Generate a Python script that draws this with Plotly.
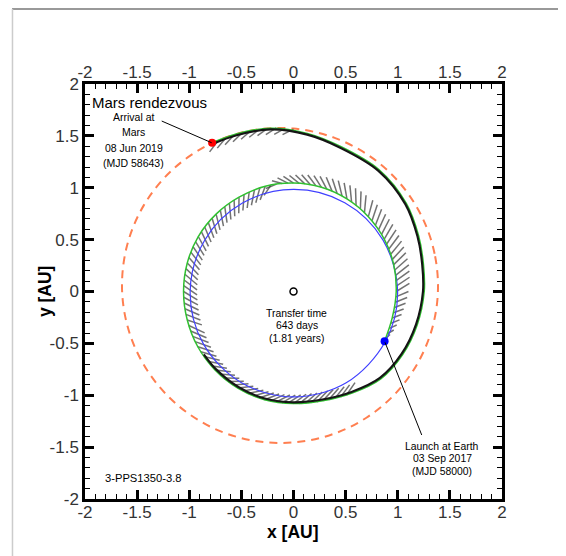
import plotly.graph_objects as go

# ---------------- data ----------------
tick_vals = [-2, -1.5, -1, -0.5, 0, 0.5, 1, 1.5, 2]
tick_text = ["-2", "-1.5", "-1", "-0.5", "0", "0.5", "1", "1.5", "2"]

# Mars orbit (polar: angle in deg, radius in AU)
mars_theta = [0, 15, 30, 45, 60, 75, 90, 105, 120, 135, 150, 165, 180, 195, 210,
              225, 240, 255, 270, 285, 300, 315, 330, 345, 360]
mars_r = [1.392, 1.408, 1.432, 1.462, 1.496, 1.533, 1.570, 1.605, 1.634, 1.655,
          1.665, 1.664, 1.652, 1.629, 1.598, 1.563, 1.526, 1.489, 1.455, 1.427,
          1.405, 1.390, 1.382, 1.383, 1.392]

# Earth orbit
earth_theta = [-28.6, 0, 30, 60, 90, 120, 150, 180, 210, 240, 270, 300, 331.4]
earth_r = [1.008, 1.0035, 0.995, 0.988, 0.984, 0.984, 0.9885, 0.996, 1.0046,
           1.012, 1.016, 1.016, 1.008]

# spacecraft trajectory (cumulative angle)
traj_theta = [-28.6, -15, 0, 15, 30, 45, 60, 75, 90, 105, 120, 135, 150, 165, 180,
              195, 210, 225, 240, 255, 270, 285, 300, 315, 330, 345, 360, 372, 384,
              398, 415, 432, 445, 458, 470, 478.8]
traj_r = [1.00, 0.985, 0.99, 1.0, 1.01, 1.02, 1.03, 1.04, 1.045, 1.05, 1.05, 1.055,
          1.06, 1.06, 1.06, 1.06, 1.065, 1.07, 1.075, 1.08, 1.08, 1.09, 1.13, 1.19,
          1.215, 1.235, 1.26, 1.28, 1.32, 1.38, 1.435, 1.47, 1.53, 1.59, 1.615, 1.634]

# dark (dense, tangential thrust) band just inside the trajectory
dark_theta = [215, 225, 240, 255, 270, 285, 300, 315, 330, 345, 360, 372, 384,
              398, 415, 432, 445, 458, 470, 478.8]
dark_r = [1.055, 1.058, 1.063, 1.068, 1.068, 1.078, 1.118, 1.178, 1.203, 1.223,
          1.248, 1.268, 1.308, 1.368, 1.423, 1.458, 1.518, 1.578, 1.603, 1.622]

# thrust arrows on the first revolution: base angle grid, base radius,
# tip radius, tip angle offset (deg)
arrow_theta = list(range(-27, 298, 3))
arrow_r0 = [0.998, 0.995, 0.991, 0.988, 0.985, 0.985, 0.986, 0.987, 0.988, 0.99,
            0.992, 0.994, 0.996, 0.998, 1.0, 1.002, 1.004, 1.006, 1.008, 1.01,
            1.012, 1.014, 1.016, 1.018, 1.02, 1.022, 1.024, 1.026, 1.028, 1.03,
            1.032, 1.034, 1.036, 1.038, 1.04, 1.041, 1.042, 1.043, 1.044, 1.045,
            1.046, 1.047, 1.048, 1.049, 1.05, 1.05, 1.05, 1.05, 1.05, 1.05,
            1.051, 1.052, 1.053, 1.054, 1.055, 1.056, 1.057, 1.058, 1.059, 1.06,
            1.06, 1.06, 1.06, 1.06, 1.06, 1.06, 1.06, 1.06, 1.06, 1.06,
            1.06, 1.06, 1.06, 1.06, 1.06, 1.061, 1.062, 1.063, 1.064, 1.065,
            1.066, 1.067, 1.068, 1.069, 1.07, 1.071, 1.072, 1.073, 1.074, 1.075,
            1.076, 1.077, 1.078, 1.079, 1.08, 1.08, 1.08, 1.08, 1.08, 1.08,
            1.082, 1.084, 1.086, 1.088, 1.09, 1.098, 1.106, 1.114, 1.122]
arrow_r1 = [1.018, 1.035, 1.046, 1.058, 1.065, 1.075, 1.086, 1.097, 1.108, 1.12,
            1.127, 1.134, 1.141, 1.143, 1.145, 1.147, 1.149, 1.151, 1.153, 1.155,
            1.157, 1.159, 1.161, 1.163, 1.165, 1.162, 1.164, 1.161, 1.158, 1.155,
            1.152, 1.149, 1.146, 1.138, 1.135, 1.131, 1.127, 1.123, 1.119, 1.115,
            1.106, 1.087, 1.028, 0.969, 0.94, 0.93, 0.925, 0.92, 0.92, 0.92,
            0.92, 0.92, 0.922, 0.923, 0.924, 0.925, 0.926, 0.927, 0.928, 0.929,
            0.93, 0.93, 0.93, 0.93, 0.93, 0.93, 0.93, 0.93, 0.93, 0.93,
            0.93, 0.932, 0.935, 0.938, 0.94, 0.945, 0.95, 0.955, 0.96, 0.965,
            0.97, 0.973, 0.976, 0.979, 0.982, 0.984, 0.986, 0.988, 0.99, 0.992,
            0.994, 0.995, 0.996, 0.997, 0.998, 0.998, 0.998, 0.998, 0.998, 0.998,
            1.0, 1.004, 1.008, 1.012, 1.02, 1.03, 1.04, 1.05, 1.06]
arrow_skew = [3] * 9 + [4] * 16 + [5] * 17 + [6] + [5] * 32 + [7] * 34

# short arrows just before arrival
tail_theta = [450, 453, 456, 459, 462, 465, 468, 471, 474, 477]
tail_r0 = [1.565, 1.575, 1.585, 1.592, 1.597, 1.602, 1.607, 1.611, 1.615, 1.62]
tail_r1 = [1.515, 1.525, 1.535, 1.542, 1.547, 1.552, 1.557, 1.561, 1.565, 1.57]
tail_skew = [4, 4, 4, 4, 4, 4, 4, 4, 4, 4]

assert len(arrow_theta) == len(arrow_r0) == len(arrow_r1) == len(arrow_skew)

launch_pt = dict(theta=-28.6, r=1.0)
arrival_pt = dict(theta=118.7, r=1.634)
sun_xy = (0.0, 0.0)

title_text = "Mars rendezvous"
title_pos = (-1.952, 1.822)
arrival_lines = ["Arrival at", "Mars", "08 Jun 2019", "(MJD 58643)"]
arrival_text_pos = (-1.533, 1.46)
arrival_leader = [(-1.264, 1.643), (-0.785, 1.434)]
transfer_lines = ["Transfer time", "643 days", "(1.81 years)"]
transfer_text_pos = (0.03, -0.33)
launch_lines = ["Launch at Earth", "03 Sep 2017", "(MJD 58000)"]
launch_text_pos = (1.427, -1.612)
launch_leader = [(0.878, -0.49), (1.23, -1.383)]
case_text = "3-PPS1350-3.8"
case_pos = (-1.824, -1.793)

# ---------------- figure ----------------
FONT = "Liberation Sans, Arial, sans-serif"
fig = go.Figure()

fig.add_trace(go.Scatter(x=[sun_xy[0]], y=[sun_xy[1]], mode="markers",
                         marker=dict(symbol="circle-open", size=7, color="black",
                                     line=dict(width=1.5, color="black")),
                         showlegend=False, hoverinfo="skip"))
fig.add_trace(go.Scatter(x=[sun_xy[0]], y=[sun_xy[1]], xaxis="x2", mode="markers",
                         marker=dict(size=1, opacity=0), showlegend=False,
                         hoverinfo="skip"))

fig.add_trace(go.Scatterpolar(theta=mars_theta, r=mars_r, mode="lines",
                              line=dict(color="#ff7f50", width=2, dash="8px,6px",
                                        shape="spline"),
                              showlegend=False, hoverinfo="skip"))


def segments(thetas, r0s, r1s, skews):
    rr, tt = [], []
    for th, r0, r1, sk in zip(thetas, r0s, r1s, skews):
        rr += [r0, r1, None]
        tt += [th, th + sk, None]
    return rr, tt


seg_r, seg_t = segments(arrow_theta, arrow_r0, arrow_r1, arrow_skew)
fig.add_trace(go.Scatterpolar(theta=seg_t, r=seg_r, mode="lines",
                              line=dict(color="rgba(60,60,60,0.72)", width=1.5),
                              showlegend=False, hoverinfo="skip"))
tr, tt = segments(tail_theta, tail_r0, tail_r1, tail_skew)
fig.add_trace(go.Scatterpolar(theta=tt, r=tr, mode="lines",
                              line=dict(color="rgba(60,60,60,0.72)", width=1.5),
                              showlegend=False, hoverinfo="skip"))

fig.add_trace(go.Scatterpolar(theta=earth_theta, r=earth_r, mode="lines",
                              line=dict(color="#4040ff", width=1.2, shape="spline"),
                              showlegend=False, hoverinfo="skip"))
fig.add_trace(go.Scatterpolar(theta=traj_theta, r=traj_r, mode="lines",
                              line=dict(color="#30c030", width=1.5, shape="spline"),
                              showlegend=False, hoverinfo="skip"))
fig.add_trace(go.Scatterpolar(theta=dark_theta, r=dark_r, mode="lines",
                              line=dict(color="#151515", width=2.2, shape="spline"),
                              showlegend=False, hoverinfo="skip"))
fig.add_trace(go.Scatterpolar(theta=[launch_pt["theta"]], r=[launch_pt["r"]],
                              mode="markers", marker=dict(color="#0000ff", size=8),
                              showlegend=False, hoverinfo="skip"))
fig.add_trace(go.Scatterpolar(theta=[arrival_pt["theta"]], r=[arrival_pt["r"]],
                              mode="markers", marker=dict(color="#ff0000", size=8),
                              showlegend=False, hoverinfo="skip"))

axis_common = dict(range=[-2, 2], tickvals=tick_vals, ticktext=tick_text,
                   ticks="inside", ticklen=9, tickwidth=2.5, tickcolor="black",
                   showline=True, linewidth=2.5, linecolor="black",
                   showgrid=False, zeroline=False,
                   tickfont=dict(family=FONT, size=17, color="#333333"),
                   minor=dict(ticks="inside", dtick=0.1, tick0=0, ticklen=5,
                              tickwidth=1, tickcolor="black", showgrid=False))

fig.update_layout(
    width=566, height=556,
    margin=dict(l=77, r=72, t=76, b=65),
    paper_bgcolor="white", plot_bgcolor="white",
    xaxis=dict(**axis_common, side="bottom", anchor="y", ticklabelstandoff=-4),
    xaxis2=dict(**axis_common, side="top", overlaying="x", anchor="y",
                ticklabelstandoff=-4),
    yaxis=dict(**axis_common, mirror="ticks", anchor="x"),
    polar=dict(domain=dict(x=[0, 1], y=[0, 1]), bgcolor="rgba(0,0,0,0)",
               radialaxis=dict(range=[0, 2], visible=False, showgrid=False),
               angularaxis=dict(visible=False, showgrid=False, rotation=0,
                                direction="counterclockwise")),
    showlegend=False,
)

# axis titles
fig.add_annotation(xref="paper", yref="paper", x=0.499, y=-0.079,
                   text="<b>x [AU]</b>", showarrow=False, xanchor="center",
                   yanchor="middle", font=dict(family=FONT, size=17.5, color="black"))
fig.add_annotation(xref="paper", yref="paper", x=-0.0959, y=0.501,
                   text="<b>y [AU]</b>", showarrow=False, textangle=-90,
                   xanchor="center", yanchor="middle",
                   font=dict(family=FONT, size=17.5, color="black"))

# leader lines
for (p0, p1) in [arrival_leader, launch_leader]:
    fig.add_shape(type="line", xref="x", yref="y", x0=p0[0], y0=p0[1],
                  x1=p1[0], y1=p1[1], line=dict(color="black", width=1))

# page frame lines
fig.add_shape(type="line", xref="paper", yref="paper", x0=-0.175, x1=1.173,
              y0=1.1807, y1=1.1807, line=dict(color="#999999", width=2))
fig.add_shape(type="line", xref="paper", yref="paper", x0=-0.1739, x1=-0.1739,
              y0=-0.16, y1=1.1807, line=dict(color="#cccccc", width=1.5))


def note(text, pos, size, align="center", xanchor="center", yshift=0):
    fig.add_annotation(x=pos[0], y=pos[1], xref="x", yref="y", text=text,
                       showarrow=False, align=align, xanchor=xanchor,
                       yanchor="middle", yshift=yshift,
                       font=dict(family=FONT, size=size, color="black"))


def block(lines, pos, size, spacing):
    n = len(lines)
    for i, line in enumerate(lines):
        note(line, pos, size, yshift=-(i - (n - 1) / 2) * spacing)


note(title_text, title_pos, 15, align="left", xanchor="left")
block(arrival_lines, arrival_text_pos, 10.5, 15.3)
block(transfer_lines, transfer_text_pos, 10.4, 12.5)
block(launch_lines, launch_text_pos, 10.4, 12.3)
note(case_text, case_pos, 11.2, align="left", xanchor="left")

fig.write_html("out.html")
